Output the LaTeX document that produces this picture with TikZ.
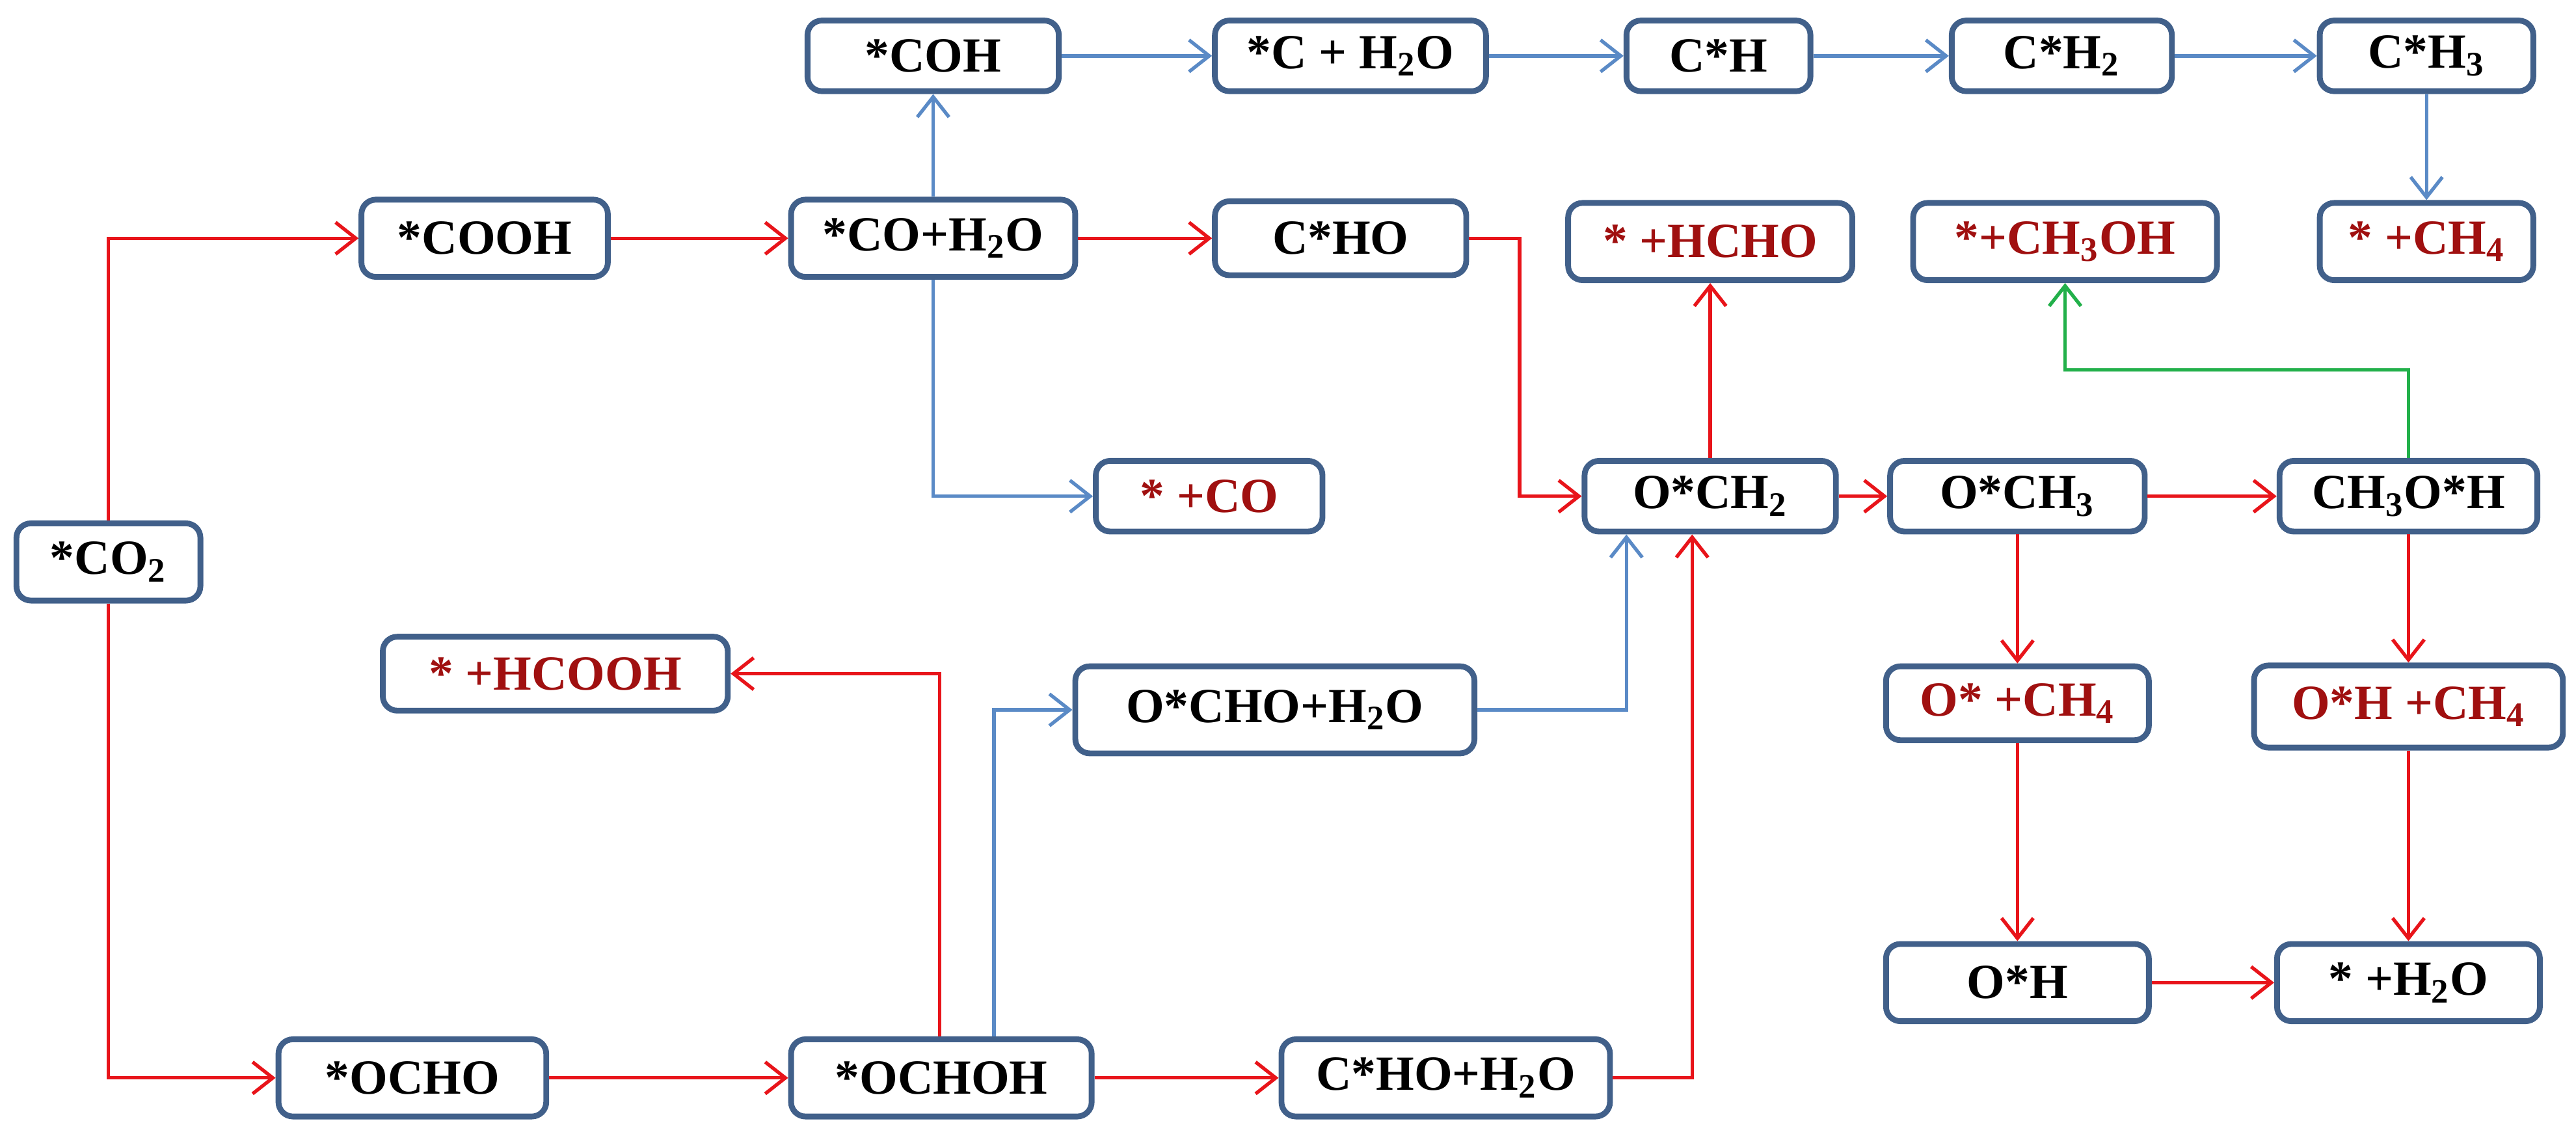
\documentclass[tikz,border=0pt]{standalone}
\usepackage{fontspec}
\setmainfont{Liberation Serif}
\usetikzlibrary{arrows.meta}
\definecolor{bx}{HTML}{41608A}
\definecolor{dr}{HTML}{A01010}
\definecolor{ar}{HTML}{E8141A}
\definecolor{ab}{HTML}{5A8AC6}
\definecolor{ag}{HTML}{22B04A}
\begin{document}
\begin{tikzpicture}[x=0.02cm,y=-0.02cm,
  bxs/.style={draw=bx,line width=2pt,rounded corners=5pt,fill=white,inner sep=0pt,minimum height=0.94cm,font=\fontsize{17}{20}\selectfont\bfseries},
  prod/.style={bxs,text=dr},
  ra/.style={draw=ar,line width=1.2pt,-{Straight Barb[length=7pt,width=11pt,line width=1.2pt]}},
  ba/.style={ra,draw=ab},
  ga/.style={ra,draw=ag}]
\useasboundingbox (0,0) rectangle (1568,690);
\node[bxs,minimum width=2.24cm] (co2) at (66,342) {*CO\textsubscript{2}};
\node[bxs,minimum width=3cm] (cooh) at (295,145) {*COOH};
\node[bxs,minimum width=3.46cm] (coh2o) at (568,145) {*CO+H\textsubscript{2}O};
\node[bxs,minimum width=3.06cm,minimum height=0.86cm] (coh) at (568,34) {*COH};
\node[bxs,minimum width=3.3cm,minimum height=0.86cm] (ch2o) at (822,34) {*C + H\textsubscript{2}O};
\node[bxs,minimum width=2.24cm,minimum height=0.86cm] (ch) at (1046,34) {C*H};
\node[bxs,minimum width=2.68cm,minimum height=0.86cm] (ch2) at (1255,34) {C*H\textsubscript{2}};
\node[bxs,minimum width=2.6cm,minimum height=0.86cm] (ch3) at (1477,34) {C*H\textsubscript{3}};
\node[bxs,minimum width=3.06cm,minimum height=0.9cm] (cho) at (816,145) {C*HO};
\node[prod,minimum width=3.46cm] (hcho) at (1041,147) {* +HCHO};
\node[prod,minimum width=3.7cm] (ch3oh) at (1257,147) {*+CH\textsubscript{3}OH};
\node[prod,minimum width=2.6cm] (ch4) at (1477,147) {* +CH\textsubscript{4}};
\node[prod,minimum width=2.76cm,minimum height=0.86cm] (co) at (736,302) {* +CO};
\node[bxs,minimum width=3.06cm,minimum height=0.86cm] (och2) at (1041,302) {O*CH\textsubscript{2}};
\node[bxs,minimum width=3.1cm,minimum height=0.86cm] (och3) at (1228,302) {O*CH\textsubscript{3}};
\node[bxs,minimum width=3.14cm,minimum height=0.86cm] (ch3oh2) at (1466,302) {CH\textsubscript{3}O*H};
\node[prod,minimum width=4.2cm,minimum height=0.9cm] (hcooh) at (338,410) {* +HCOOH};
\node[bxs,minimum width=4.86cm,minimum height=1.06cm] (ochoh2o) at (776,432) {O*CHO+H\textsubscript{2}O};
\node[prod,minimum width=3.2cm,minimum height=0.9cm] (och4) at (1228,428) {O* +CH\textsubscript{4}};
\node[prod,minimum width=3.76cm,minimum height=1cm] (ohch4) at (1466,430) {O*H +CH\textsubscript{4}};
\node[bxs,minimum width=3.2cm] (oh) at (1228,598) {O*H};
\node[bxs,minimum width=3.2cm] (h2o) at (1466,598) {* +H\textsubscript{2}O};
\node[bxs,minimum width=3.26cm] (ocho) at (251,656) {*OCHO};
\node[bxs,minimum width=3.66cm] (ochoh) at (573,656) {*OCHOH};
\node[bxs,minimum width=4cm] (chohh2o) at (880,656) {C*HO+H\textsubscript{2}O};
% red paths
\draw[ra] (co2.north) |- (cooh.west);
\draw[ra] (co2.south) |- (ocho.west);
\draw[ra] (cooh) -- (coh2o);
\draw[ra] (coh2o) -- (cho);
\draw[ra] (cho.east) -| (925,302) -- (och2.west);
\draw[ra] (och2) -- (hcho);
\draw[ra] (och2) -- (och3);
\draw[ra] (och3) -- (ch3oh2);
\draw[ra] (och3) -- (och4);
\draw[ra] (och4) -- (oh);
\draw[ra] (ch3oh2) -- (ohch4);
\draw[ra] (ohch4) -- (h2o);
\draw[ra] (oh) -- (h2o);
\draw[ra] (ocho) -- (ochoh);
\draw[ra] (ochoh) -- (chohh2o);
\draw[ra] (chohh2o.east) -| (och2.south -| 1030,0);
\draw[ra] (ochoh.north -| 572,0) |- (hcooh.east);
% blue paths
\draw[ba] (coh2o) -- (coh);
\draw[ba] (coh2o.south) |- (co.west);
\draw[ba] (coh) -- (ch2o);
\draw[ba] (ch2o) -- (ch);
\draw[ba] (ch) -- (ch2);
\draw[ba] (ch2) -- (ch3);
\draw[ba] (ch3) -- (ch4);
\draw[ba] (ochoh.north -| 605,0) |- (ochoh2o.west);
\draw[ba] (ochoh2o.east) -| (och2.south -| 990,0);
% green
\draw[ga] (ch3oh2.north) |- (1257,225) -- (ch3oh.south);
\end{tikzpicture}
\end{document}
